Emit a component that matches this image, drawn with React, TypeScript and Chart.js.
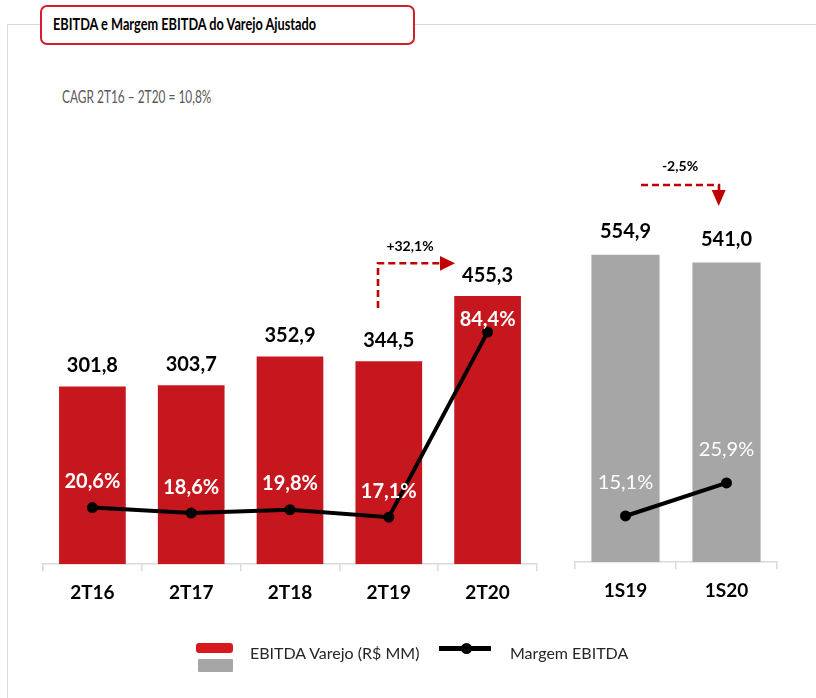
import React, { useEffect, useRef } from 'react';
import { Chart, registerables } from 'chart.js';
Chart.register(...registerables);

const quarterLabels = ['2T16', '2T17', '2T18', '2T19', '2T20'];
const quarterEbitda = [301.8, 303.7, 352.9, 344.5, 455.3];
const quarterMargin = [20.6, 18.6, 19.8, 17.1, 84.4];

const semesterLabels = ['1S19', '1S20'];
const semesterEbitda = [554.9, 541.0];
const semesterMargin = [15.1, 25.9];

const FONT = 'Lato, "Open Sans", sans-serif';
const RED = '#C6161E';
const GRAY = '#A6A6A6';
const AXIS = '#D9D9D9';

const fmt = (v: number) => v.toFixed(1).replace('.', ',');

function labelPlugin(cfg: { valueOffset: number; pctOffset: number; insidePad: number; pctWeight: string }) {
  return {
    id: 'valueLabels',
    afterDatasetsDraw(chart: any) {
      const ctx = chart.ctx;
      const lineMeta = chart.getDatasetMeta(0);
      const barMeta = chart.getDatasetMeta(1);
      const bars = chart.data.datasets[1].data as number[];
      const pcts = chart.data.datasets[0].data as number[];
      ctx.save();
      ctx.textAlign = 'center';
      ctx.textBaseline = 'middle';
      ctx.fillStyle = '#000';
      ctx.font = `bold 20px ${FONT}`;
      barMeta.data.forEach((el: any, i: number) => {
        ctx.fillText(fmt(bars[i]), el.x, el.y - cfg.valueOffset);
      });
      ctx.fillStyle = '#fff';
      ctx.font = `${cfg.pctWeight} 20px ${FONT}`;
      lineMeta.data.forEach((pt: any, i: number) => {
        const bar = barMeta.data[i];
        const y = Math.max(pt.y - cfg.pctOffset, bar.y + cfg.insidePad);
        ctx.fillText(`${fmt(pcts[i])}%`, pt.x, y);
      });
      ctx.restore();
    },
  };
}

function makeConfig(
  labels: string[],
  bars: number[],
  pcts: number[],
  barColor: string,
  barMax: number,
  pctMax: number,
  padding: any,
  plugin: any
): any {
  return {
    type: 'bar',
    data: {
      labels,
      datasets: [
        {
          type: 'line',
          data: pcts,
          yAxisID: 'y2',
          borderColor: '#000',
          borderWidth: 4,
          pointRadius: 5.5,
          pointBackgroundColor: '#000',
          pointBorderWidth: 0,
          tension: 0,
          order: 0,
        },
        {
          type: 'bar',
          data: bars,
          yAxisID: 'y',
          backgroundColor: barColor,
          categoryPercentage: 1,
          barPercentage: 0.675,
          order: 1,
        },
      ],
    },
    options: {
      responsive: false,
      maintainAspectRatio: false,
      animation: false,
      layout: { padding },
      plugins: { legend: { display: false }, tooltip: { enabled: false } },
      scales: {
        x: {
          grid: {
            display: true,
            drawOnChartArea: false,
            drawTicks: true,
            tickLength: 7,
            color: AXIS,
            lineWidth: 1.5,
            offset: true,
          },
          border: { display: true, color: AXIS, width: 1.5 },
          ticks: {
            color: '#000',
            padding: 10,
            font: { family: FONT, size: 19, weight: 'bold' },
          },
        },
        y: { display: false, min: 0, max: barMax },
        y2: { display: false, min: 0, max: pctMax },
      },
    },
    plugins: [plugin],
  };
}

function ChartCanvas(props: { config: () => any; left: number; width: number; height: number }) {
  const ref = useRef<HTMLCanvasElement>(null);
  useEffect(() => {
    const chart = new Chart(ref.current as HTMLCanvasElement, props.config());
    return () => chart.destroy();
  }, []);
  return (
    <canvas
      ref={ref}
      width={props.width}
      height={props.height}
      style={{ position: 'absolute', left: props.left, top: 0, width: props.width, height: props.height }}
    />
  );
}

export default function App() {
  return (
    <div style={{ position: 'absolute', left: 0, top: 0, width: 816, height: 698, background: '#fff', overflow: 'hidden', fontFamily: FONT }}>
      <div style={{ position: 'absolute', left: 7, top: 24, width: 820, height: 700, borderLeft: `1.5px solid ${AXIS}`, borderTop: `1.5px solid ${AXIS}` }} />
      <div
        style={{
          position: 'absolute',
          left: 40,
          top: 5,
          width: 371,
          height: 36,
          border: '2px solid #D21F2B',
          borderRadius: 7,
          background: '#fff',
        }}
      />
      <div style={{ position: 'absolute', left: 53, top: 14, fontSize: 17, fontWeight: 'bold', color: '#000', whiteSpace: 'nowrap', transform: 'scaleX(0.75)', transformOrigin: 'left center', lineHeight: '20px' }}>
        EBITDA e Margem EBITDA do Varejo Ajustado
      </div>
      <div style={{ position: 'absolute', left: 62, top: 86, fontSize: 17, color: '#595959', whiteSpace: 'nowrap', transform: 'scaleX(0.7)', transformOrigin: 'left center', lineHeight: '22px' }}>
        CAGR 2T16 – 2T20 = 10,8%
      </div>

      <ChartCanvas
        left={0}
        width={560}
        height={640}
        config={() =>
          makeConfig(
            quarterLabels,
            quarterEbitda,
            quarterMargin,
            RED,
            788.3,
            168.8,
            { left: 43, right: 23, top: 100, bottom: 26 },
            labelPlugin({ valueOffset: 21, pctOffset: 26, insidePad: 23, pctWeight: 'bold' })
          )
        }
      />
      <ChartCanvas
        left={560}
        width={256}
        height={640}
        config={() =>
          makeConfig(
            semesterLabels,
            semesterEbitda,
            semesterMargin,
            GRAY,
            834,
            151,
            { left: 15, right: 39, top: 100, bottom: 28 },
            labelPlugin({ valueOffset: 23, pctOffset: 33, insidePad: 23, pctWeight: 'normal' })
          )
        }
      />

      <svg width={816} height={698} style={{ position: 'absolute', left: 0, top: 0, pointerEvents: 'none' }}>
        <path d="M378 308 V263.3 H440" fill="none" stroke="#C00000" strokeWidth={2.6} strokeDasharray="7 4" />
        <path d="M440 256 L455 263.3 L440 270.7 Z" fill="#C00000" />
        <path d="M641 185 H719 V190" fill="none" stroke="#C00000" strokeWidth={2.6} strokeDasharray="7 4" />
        <path d="M711.7 190 L725.7 190 L718.7 206 Z" fill="#C00000" />
        <text x={410} y={245} textAnchor="middle" dominantBaseline="central" fontFamily={FONT} fontWeight="bold" fontSize={14} fill="#000">+32,1%</text>
        <text x={680} y={165} textAnchor="middle" dominantBaseline="central" fontFamily={FONT} fontWeight="bold" fontSize={14} fill="#000">-2,5%</text>
      </svg>

      <div style={{ position: 'absolute', left: 196, top: 643, width: 37, height: 10, borderRadius: 3, background: '#D7191F' }} />
      <div style={{ position: 'absolute', left: 197.5, top: 659, width: 35, height: 12.5, borderRadius: 1, background: GRAY }} />
      <div style={{ position: 'absolute', left: 250, top: 643, fontSize: 16, color: '#262626', lineHeight: '20px', whiteSpace: 'nowrap' }}>EBITDA Varejo (R$ MM)</div>
      <div style={{ position: 'absolute', left: 439, top: 645.5, width: 52, height: 5.5, background: '#000' }} />
      <div style={{ position: 'absolute', left: 460.5, top: 642.7, width: 11, height: 11, borderRadius: '50%', background: '#000' }} />
      <div style={{ position: 'absolute', left: 510, top: 643, fontSize: 16, color: '#262626', lineHeight: '20px', whiteSpace: 'nowrap' }}>Margem EBITDA</div>
    </div>
  );
}
